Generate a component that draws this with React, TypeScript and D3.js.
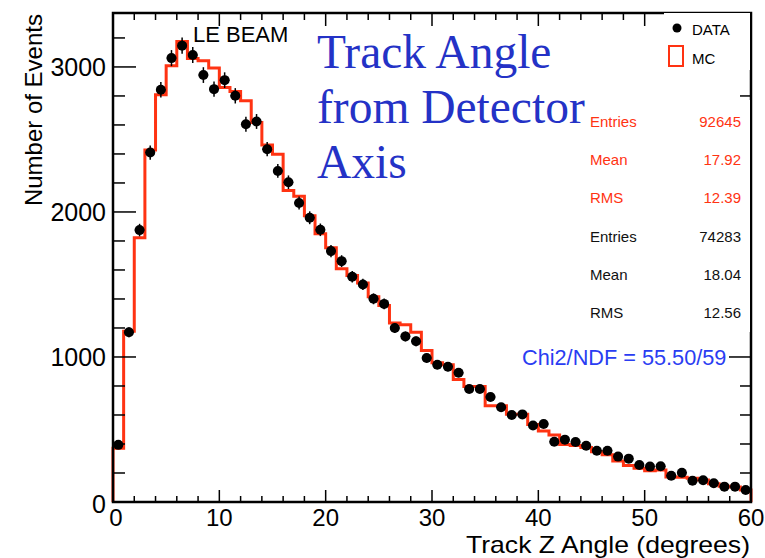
import React from "react";
import * as d3 from "d3";

// ---- data (60 bins of 1 degree, 0..60) ----
const MC_COUNTS = [
  371, 1177, 1822, 2428, 2808, 3008, 3175, 3059, 3043, 2992,
  2859, 2831, 2767, 2617, 2462, 2398, 2148, 2108, 1974, 1850,
  1753, 1608, 1562, 1511, 1415, 1355, 1235, 1223, 1170, 1044,
  960, 947, 845, 797, 797, 663, 663, 605, 605, 535,
  490, 462, 397, 390, 375, 347, 326, 282, 252, 232,
  215, 221, 172, 170, 163, 152, 125, 108, 103, 83,
];
const DATA_COUNTS = [
  394, 1170, 1875, 2410, 2843, 3061, 3147, 3082, 2944, 2847,
  2909, 2801, 2605, 2624, 2433, 2283, 2205, 2062, 1960, 1877,
  1730, 1661, 1553, 1500, 1401, 1366, 1200, 1142, 1108, 993,
  947, 933, 891, 779, 779, 724, 653, 600, 604, 528,
  538, 416, 430, 414, 388, 354, 354, 313, 299, 255,
  244, 246, 181, 202, 147, 150, 129, 106, 106, 83,
];
const X_MAJOR = [0, 10, 20, 30, 40, 50, 60];
const X_MINOR = d3.range(0, 61, 2);
const Y_MAJOR = [0, 1000, 2000, 3000];
const Y_MINOR = d3.range(0, 3201, 200);
const STATS_MC = [["Entries", "92645"], ["Mean", "17.92"], ["RMS", "12.39"]];
const STATS_DATA = [["Entries", "74283"], ["Mean", "18.04"], ["RMS", "12.56"]];
const TITLE_LINES = ["Track Angle", "from Detector", "Axis"];

const RED = "#ff3312";
const SANS = "'Liberation Sans', Arial, sans-serif";
const SERIF = "'Liberation Serif', 'Times New Roman', serif";

export default function App() {
  const W = 765, H = 558;
  const x = d3.scaleLinear().domain([0, 60]).range([113, 751]);
  const y = d3.scaleLinear().domain([0, 3372]).range([502, 13]);
  const [x0, x1] = x.range();
  const [yb, yt] = y.range();

  // MC histogram outline
  let mcPath = `M${x(0)},${y(0)}`;
  MC_COUNTS.forEach((v, i) => {
    mcPath += `V${y(v)}H${x(i + 1)}`;
  });
  mcPath += `V${y(0)}`;

  return (
    <svg width={W} height={H} style={{ position: "absolute", left: 0, top: 0, background: "#fff" }}>
      <rect x={0} y={0} width={W} height={H} fill="#fff" />
      {/* MC histogram */}
      <path d={mcPath} fill="none" stroke={RED} strokeWidth={3} strokeLinejoin="miter" />

      {/* data points */}
      {DATA_COUNTS.map((v, i) => {
        const cx = x(i + 0.5);
        const e = Math.sqrt(v);
        return (
          <g key={i}>
            <line x1={cx} x2={cx} y1={y(v + e)} y2={y(Math.max(0, v - e))} stroke="#000" strokeWidth={1.5} />
            <line x1={x(i + 0.05)} x2={x(i + 0.95)} y1={y(v)} y2={y(v)} stroke="#000" strokeWidth={1.5} />
            <circle cx={cx} cy={y(v)} r={5} fill="#000" />
          </g>
        );
      })}

      {/* ticks */}
      {X_MINOR.map((t) => {
        const major = t % 10 === 0;
        return (
          <g key={"xt" + t}>
            <line x1={x(t)} x2={x(t)} y1={yb} y2={yb - (major ? 12 : 6)} stroke="#000" strokeWidth={1.5} />
            <line x1={x(t)} x2={x(t)} y1={yt} y2={yt + (major ? 13 : 7)} stroke="#000" strokeWidth={1.5} />
          </g>
        );
      })}
      {Y_MINOR.map((t) => {
        const major = t % 1000 === 0;
        return (
          <g key={"yt" + t}>
            <line x1={x0} x2={x0 + (major ? 23 : 12)} y1={y(t)} y2={y(t)} stroke="#000" strokeWidth={1.5} />
            <line x1={x1} x2={x1 - (major ? 22 : 11)} y1={y(t)} y2={y(t)} stroke="#000" strokeWidth={1.5} />
          </g>
        );
      })}

      {/* frame */}
      <rect x={x0} y={yt} width={x1 - x0} height={yb - yt} fill="none" stroke="#000" strokeWidth={2.5} />

      {/* legend box */}
      <rect x={664} y={yt} width={x1 - 664 - 1} height={57} fill="#fff" />
      <circle cx={677} cy={28} r={4.5} fill="#000" />
      <text x={692} y={35} fontFamily={SANS} fontSize={15} fill="#000">DATA</text>
      <rect x={669} y={46} width={14} height={20} fill="none" stroke={RED} strokeWidth={2} />
      <text x={692} y={64} fontFamily={SANS} fontSize={15} fill="#000">MC</text>

      {/* stats box */}
      <rect x={585} y={100} width={x1 - 585 - 1} height={232} fill="#fff" />
      {STATS_MC.map(([k, v], i) => (
        <g key={"sm" + k}>
          <text x={590} y={127 + i * 38} fontFamily={SANS} fontSize={15} fill={RED}>{k}</text>
          <text x={741} y={127 + i * 38} fontFamily={SANS} fontSize={15} fill={RED} textAnchor="end">{v}</text>
        </g>
      ))}
      {STATS_DATA.map(([k, v], i) => (
        <g key={"sd" + k}>
          <text x={590} y={242 + i * 38} fontFamily={SANS} fontSize={15} fill="#111">{k}</text>
          <text x={741} y={242 + i * 38} fontFamily={SANS} fontSize={15} fill="#111" textAnchor="end">{v}</text>
        </g>
      ))}

      <text x={522} y={365} fontFamily={SANS} fontSize={21.7} fill="#2a3df2">Chi2/NDF = 55.50/59</text>

      {/* title */}
      {TITLE_LINES.map((t, i) => (
        <text key={t} x={317} y={68 + i * 55} fontFamily={SERIF} fontSize={47.5} fill="#2432c6">{t}</text>
      ))}
      <text x={193} y={42} fontFamily={SANS} fontSize={22} fill="#000">LE BEAM</text>

      {/* tick labels */}
      {X_MAJOR.map((t) => (
        <text key={"xl" + t} x={x(t) + (t === 0 ? 3 : 0)} y={526} fontFamily={SANS} fontSize={24} textAnchor="middle" fill="#000">{t}</text>
      ))}
      {Y_MAJOR.map((t) => (
        <text key={"yl" + t} x={106} y={y(t) + (t === 0 ? 11 : 9)} fontFamily={SANS} fontSize={25} textAnchor="end" fill="#000">{t}</text>
      ))}

      {/* axis titles */}
      <text x={466} y={552.5} fontFamily={SANS} fontSize={24} textLength={284} lengthAdjust="spacingAndGlyphs" fill="#000">Track Z Angle (degrees)</text>
      <text transform="translate(42,14) rotate(-90)" fontFamily={SANS} fontSize={24} textAnchor="end" fill="#000">Number of Events</text>
    </svg>
  );
}
